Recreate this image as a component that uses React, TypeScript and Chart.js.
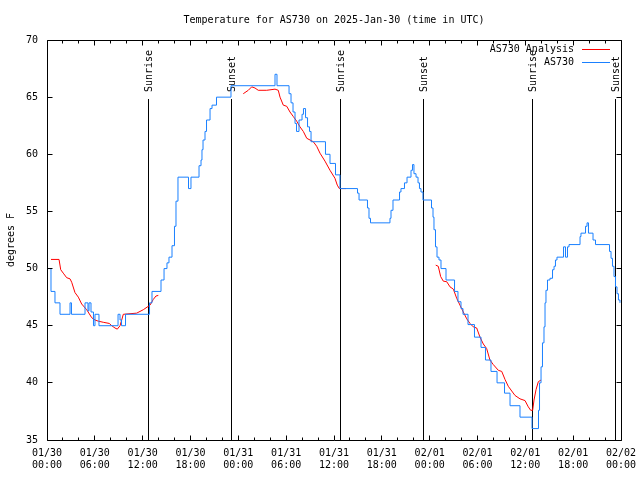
import React, { useEffect, useRef } from "react";
import { Chart, registerables } from "chart.js";

Chart.register(...registerables);

const FONT = "'DejaVu Sans Mono', monospace";

const chartTitle = "Temperature for AS730 on 2025-Jan-30 (time in UTC)";
const yAxisTitle = "degrees F";
const seriesNames = ["AS730 Analysis", "AS730"];
const seriesColors = ["#ff0000", "#1a80ff"];

const xTickDates = ["01/30", "01/30", "01/30", "01/30", "01/31", "01/31", "01/31", "01/31", "02/01", "02/01", "02/01", "02/01", "02/02"];
const xTickTimes = ["00:00", "06:00", "12:00", "18:00", "00:00", "06:00", "12:00", "18:00", "00:00", "06:00", "12:00", "18:00", "00:00"];

// hours since 2025-01-30 00:00 UTC
const eventHours = [12.71, 23.1, 36.84, 47.2, 60.87, 71.34];
const eventNames = ["Sunrise", "Sunset", "Sunrise", "Sunset", "Sunrise", "Sunset"];

// AS730 observations (value holds from each time until the next)
const stationHours = [
  0, 0.5, 1.0, 1.63, 2.89, 3.07, 4.77, 5.14, 5.27, 5.52, 5.83, 6.02, 6.52, 8.91, 9.16, 9.35, 9.85,
  12.86, 13.17, 14.3, 14.68, 15.05, 15.3, 15.68, 15.99, 16.18, 16.43, 17.75, 18.06, 19.07, 19.32,
  19.44, 19.57, 19.82, 20.01, 20.45, 20.7, 21.26, 23.08, 28.6, 28.85, 30.36, 30.61, 30.86, 31.11,
  31.3, 31.61, 31.99, 32.17, 32.43, 32.68, 32.93, 33.12, 34.93, 35.5, 36.19, 36.75, 38.95, 39.14,
  40.2, 40.39, 40.58, 43.02, 43.15, 43.4, 44.22, 44.4, 44.84, 45.16, 45.66, 45.85, 46.03, 46.29,
  46.54, 46.72, 46.91, 47.16, 48.23, 48.42, 48.54, 48.73, 48.92, 49.17, 49.42, 50.05, 51.12, 51.55,
  51.93, 52.18, 52.81, 53.62, 54.44, 55.0, 55.69, 56.45, 57.39, 58.08, 59.33, 60.84, 61.65, 61.78,
  61.97, 62.15, 62.34, 62.47, 62.59, 62.78, 63.09, 63.41, 63.6, 63.78, 63.97, 64.79, 65.04, 65.29,
  65.48, 66.86, 66.98, 67.55, 67.74, 67.92, 68.49, 68.8, 70.56, 70.75, 70.93, 71.12, 71.31, 71.5,
  71.68, 71.87,
];
const stationTemps = [
  50, 48, 47, 46, 47, 46, 47, 46.3, 47, 46.2, 45, 46, 45, 46, 45.5, 45, 46,
  47, 48, 49, 50, 50.5, 51, 52, 53.7, 55.9, 58, 57, 58, 59, 59.5,
  60.4, 61.25, 62, 63, 64, 64.3, 65, 66, 67, 66, 65.3, 64.5, 63.7, 62.7,
  62, 63, 63.5, 64, 63.2, 62.4, 62, 61.1, 60, 59.2, 58.2, 57, 56.6, 56,
  55.3, 54.4, 54, 54.4, 55.1, 56, 56.7, 57, 57.5, 58, 58.6, 59.1, 58.3, 58,
  57.5, 57, 56.7, 56, 55.3, 54.5, 53.4, 51.9, 51, 50.75, 50, 49, 48, 47.1,
  46.5, 46, 45.1, 44, 43.1, 42, 41, 40, 39.1, 38, 37, 36, 37.6, 40,
  41.4, 43.5, 44.9, 47, 48.1, 49, 49.15, 49.9, 50.2, 50.75, 51, 51.9, 51, 51.9,
  52.1, 52.8, 53.1, 53.7, 54, 53.1, 52.5, 52.1, 51.5, 50.9, 50.2, 49.3, 48.4, 47.8,
  47.25, 47,
];

// AS730 Analysis (null = gap)
const analysisHours = [
  0.5, 1.51, 1.72, 2.04, 2.47, 2.89, 3.1, 3.51, 3.93, 4.35, 4.98, 5.61, 6.02, 6.43, 7.06, 7.81,
  8.12, 8.53, 8.82, 9.16, 9.37, 9.57, 11.25, 12.08, 12.92, 13.33, 13.67, 13.96,
  19,
  24.62, 25.25, 25.68, 26.09, 26.5, 27.56, 28.6, 29.01, 29.23, 29.64, 30.07, 30.48, 30.9, 31.32,
  31.73, 32.15, 32.58, 32.99, 33.4, 33.83, 34.24, 34.87, 35.5, 36.12, 36.41, 36.67, 37.51,
  43,
  48.76, 49.08, 49.38, 49.71, 50.14, 50.55, 50.97, 51.39, 51.8, 52.22, 52.65, 53.06, 53.47, 53.9,
  54.31, 54.73, 55.15, 55.56, 55.98, 56.61, 57.04, 57.45, 57.86, 58.7, 59.33, 59.96, 60.37, 60.67,
  60.92, 61.09, 61.34, 61.63, 61.97,
];
const analysisTemps = [
  50.8, 50.8, 49.9, 49.6, 49.2, 49.1, 48.8, 47.9, 47.5, 46.9, 46.4, 45.7, 45.5, 45.4, 45.3, 45.2,
  45.0, 44.8, 44.7, 45.0, 45.5, 46.0, 46.1, 46.4, 46.8, 47.3, 47.6, 47.65,
  null,
  65.3, 65.6, 65.9, 65.8, 65.6, 65.6, 65.7, 65.6, 65.0, 64.3, 64.2, 63.7, 63.3, 62.9,
  62.4, 62.0, 61.4, 61.25, 61.1, 60.7, 60.1, 59.4, 58.6, 57.9, 57.3, 57.0, 57.0,
  null,
  50.3, 50.2, 49.3, 48.9, 48.85, 48.4, 48.2, 47.4, 46.8, 46.2, 45.6, 45.2, 44.9, 44.8,
  44.0, 43.4, 43.0, 42.0, 41.6, 41.1, 41.0, 40.3, 39.7, 38.9, 38.6, 38.45, 37.9, 37.6,
  37.6, 38.5, 39.4, 40.1, 40.25,
];

const overlayPlugin = {
  id: "gnuplotOverlay",
  beforeDatasetsDraw(chart: any) {
    const { ctx, chartArea: a, scales } = chart;
    const x = scales.x;
    ctx.save();
    ctx.strokeStyle = "#000";
    ctx.fillStyle = "#000";
    ctx.lineWidth = 1;
    ctx.font = `10px ${FONT}`;
    eventHours.forEach((h, i) => {
      const px = Math.floor(x.getPixelForValue(h)) + 0.5;
      ctx.beginPath();
      ctx.moveTo(px, a.top + 59);
      ctx.lineTo(px, a.bottom);
      ctx.stroke();
      ctx.save();
      ctx.translate(px + 0.5, a.top + 52);
      ctx.rotate(-Math.PI / 2);
      ctx.textAlign = "left";
      ctx.textBaseline = "middle";
      ctx.fillText(eventNames[i], 0, 0);
      ctx.restore();
    });
    ctx.restore();
  },
  afterDatasetsDraw(chart: any) {
    const { ctx, chartArea: a, scales } = chart;
    const x = scales.x;
    const y = scales.y;
    ctx.save();
    ctx.strokeStyle = "#000";
    ctx.lineWidth = 1;
    const L = Math.floor(a.left) + 0.5;
    const R = Math.floor(a.right) + 0.5;
    const T = Math.floor(a.top) + 0.5;
    const B = Math.floor(a.bottom) + 0.5;
    ctx.beginPath();
    ctx.rect(L, T, R - L, B - T);
    ctx.stroke();
    // x ticks (inward, mirrored)
    for (let h = 0; h <= 72; h += 2) {
      const px = Math.floor(x.getPixelForValue(h)) + 0.5;
      const len = h % 6 === 0 ? 5 : 3;
      ctx.beginPath();
      ctx.moveTo(px, B);
      ctx.lineTo(px, B - len);
      ctx.moveTo(px, T);
      ctx.lineTo(px, T + len);
      ctx.stroke();
    }
    // y ticks
    for (let v = 35; v <= 70; v += 5) {
      const py = Math.floor(y.getPixelForValue(v)) + 0.5;
      ctx.beginPath();
      ctx.moveTo(L, py);
      ctx.lineTo(L + 5, py);
      ctx.moveTo(R, py);
      ctx.lineTo(R - 5, py);
      ctx.stroke();
    }
    // legend (gnuplot style: text then line sample)
    ctx.font = `10px ${FONT}`;
    ctx.fillStyle = "#000";
    ctx.textAlign = "right";
    ctx.textBaseline = "middle";
    seriesNames.forEach((name, i) => {
      const ly = a.top + 9 + i * 13;
      ctx.fillText(name, a.right - 47, ly);
      ctx.strokeStyle = seriesColors[i];
      ctx.beginPath();
      ctx.moveTo(a.right - 39, Math.floor(ly) + 0.5);
      ctx.lineTo(a.right - 11, Math.floor(ly) + 0.5);
      ctx.stroke();
    });
    ctx.restore();
  },
};

export default function App() {
  const canvasRef = useRef<HTMLCanvasElement | null>(null);

  useEffect(() => {
    document.body.style.margin = "0";
    const canvas = canvasRef.current;
    if (!canvas) return;

    const stationData = stationHours.map((h, i) => ({ x: h, y: stationTemps[i] }));
    const analysisData = analysisHours.map((h, i) => ({ x: h, y: analysisTemps[i] }));

    const chart = new Chart(canvas, {
      type: "line",
      data: {
        datasets: [
          {
            label: seriesNames[1],
            data: stationData as any,
            borderColor: seriesColors[1],
            borderWidth: 1,
            pointRadius: 0,
            stepped: "before",
            fill: false,
          },
          {
            label: seriesNames[0],
            data: analysisData as any,
            borderColor: seriesColors[0],
            borderWidth: 1,
            pointRadius: 0,
            spanGaps: false,
            tension: 0,
            fill: false,
          },
        ],
      },
      options: {
        animation: false,
        responsive: false,
        devicePixelRatio: 1,
        layout: { padding: { top: 0, right: 19, left: 0, bottom: 0 } },
        plugins: {
          legend: { display: false },
          tooltip: { enabled: false },
          title: {
            display: true,
            text: chartTitle,
            color: "#000",
            font: { family: FONT, size: 10, weight: "normal" },
            padding: { top: 14, bottom: 14 },
            fullSize: false,
          },
        },
        scales: {
          x: {
            type: "linear",
            min: 0,
            max: 72,
            grid: { display: false, drawTicks: false },
            border: { display: false },
            afterFit: (s: any) => {
              s.height = 40;
              s.paddingLeft = 0;
              s.paddingRight = 0;
            },
            ticks: {
              stepSize: 6,
              autoSkip: false,
              maxRotation: 0,
              padding: 7,
              color: "#000",
              font: { family: FONT, size: 10 },
              callback: (v: any) => {
                const i = Math.round(Number(v) / 6);
                return [xTickDates[i], xTickTimes[i]];
              },
            },
          },
          y: {
            min: 35,
            max: 70,
            grid: { display: false, drawTicks: false },
            border: { display: false },
            afterFit: (s: any) => {
              s.width = 47;
              s.paddingTop = 0;
              s.paddingBottom = 0;
            },
            title: {
              display: true,
              text: yAxisTitle,
              color: "#000",
              font: { family: FONT, size: 10 },
              padding: { top: 5, bottom: 0 },
            },
            ticks: {
              stepSize: 5,
              padding: 9,
              color: "#000",
              font: { family: FONT, size: 10 },
            },
          },
        },
      },
      plugins: [overlayPlugin],
    });

    return () => chart.destroy();
  }, []);

  return (
    <div style={{ position: "absolute", left: 0, top: 0, width: 640, height: 480, background: "#fff" }}>
      <canvas ref={canvasRef} width={640} height={480} style={{ width: 640, height: 480 }} />
    </div>
  );
}
